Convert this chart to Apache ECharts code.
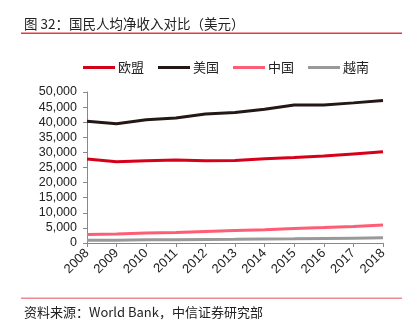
<!DOCTYPE html>
<html>
<head>
<meta charset="utf-8">
<script src="https://cdn.jsdelivr.net/npm/echarts@6/dist/echarts.min.js"></script>
<style>
  html, body { margin: 0; padding: 0; background: #fff; }
  #chart { width: 410px; height: 322px; }
</style>
</head>
<body>
<div id="chart"></div>
<script>
// Net national income per capita, USD
const years = ['2008','2009','2010','2011','2012','2013','2014','2015','2016','2017','2018'];
const euValues      = [27800, 26900, 27200, 27500, 27200, 27300, 27900, 28300, 28800, 29500, 30200];
const usValues      = [40300, 39500, 40800, 41400, 42700, 43200, 44300, 45700, 45700, 46400, 47200];
const chinaValues   = [2800, 3000, 3300, 3500, 3800, 4100, 4400, 4800, 5100, 5500, 6000];
const vietnamValues = [900, 950, 1050, 1100, 1200, 1250, 1350, 1400, 1500, 1600, 1700];

const seriesNames  = ['欧盟', '美国', '中国', '越南'];
const seriesColors = ['#d7001b', '#231815', '#ff5c75', '#999999'];

const titleText  = '图 32：国民人均净收入对比（美元）';
const sourceText = '资料来源：World Bank，中信证券研究部';

const font = 'Liberation Sans, Arial, "Noto Sans CJK SC", sans-serif';
const cjkFont = '"Noto Sans CJK SC", sans-serif';

const chart = echarts.init(document.getElementById('chart'), null, { renderer: 'canvas' });

function lineSeries(i, data) {
  return {
    name: seriesNames[i],
    type: 'line',
    data: data,
    symbol: 'none',
    smooth: false,
    lineStyle: { width: 3, color: seriesColors[i] },
    itemStyle: { color: seriesColors[i] },
    z: 10 - i
  };
}

chart.setOption({
  animation: false,
  backgroundColor: '#fff',
  graphic: [
    { type: 'text', left: 24, top: 17, style: { text: titleText, font: '13.5px ' + cjkFont, fill: '#222' } },
    { type: 'rect', shape: { x: 21, y: 32.5, width: 381, height: 1.5 }, style: { fill: '#e8383d' } },
    { type: 'rect', shape: { x: 21, y: 297.5, width: 381, height: 1.5 }, style: { fill: '#ee8a92' } },
    { type: 'text', left: 24, top: 306, style: { text: sourceText, font: '13px ' + cjkFont, fill: '#222' } }
  ],
  legend: {
    top: 56,
    left: 78,
    itemWidth: 32,
    itemHeight: 3,
    itemGap: 14,
    icon: 'rect',
    textStyle: { fontSize: 13, color: '#222', fontFamily: cjkFont, padding: [0, 0, 0, -2] },
    data: seriesNames
  },
  grid: { left: 87, right: 27, top: 92, bottom: 79, containLabel: false },
  xAxis: {
    type: 'category',
    data: years,
    boundaryGap: false,
    axisLine: { lineStyle: { color: '#888', width: 1 } },
    axisTick: { show: true, alignWithLabel: true, length: 4, lineStyle: { color: '#888' } },
    axisLabel: { rotate: 45, fontSize: 13, color: '#222', fontFamily: font, margin: 8, interval: 0 },
    splitLine: { show: false }
  },
  yAxis: {
    type: 'value',
    min: 0,
    max: 50000,
    interval: 5000,
    axisLine: { show: true, lineStyle: { color: '#888', width: 1 } },
    axisTick: { show: true, length: 4, lineStyle: { color: '#888' } },
    axisLabel: {
      fontSize: 12.5, color: '#222', fontFamily: font, margin: 10,
      formatter: v => v.toLocaleString('en-US')
    },
    splitLine: { show: false }
  },
  series: [
    lineSeries(0, euValues),
    lineSeries(1, usValues),
    lineSeries(2, chinaValues),
    lineSeries(3, vietnamValues)
  ]
});
</script>
</body>
</html>
